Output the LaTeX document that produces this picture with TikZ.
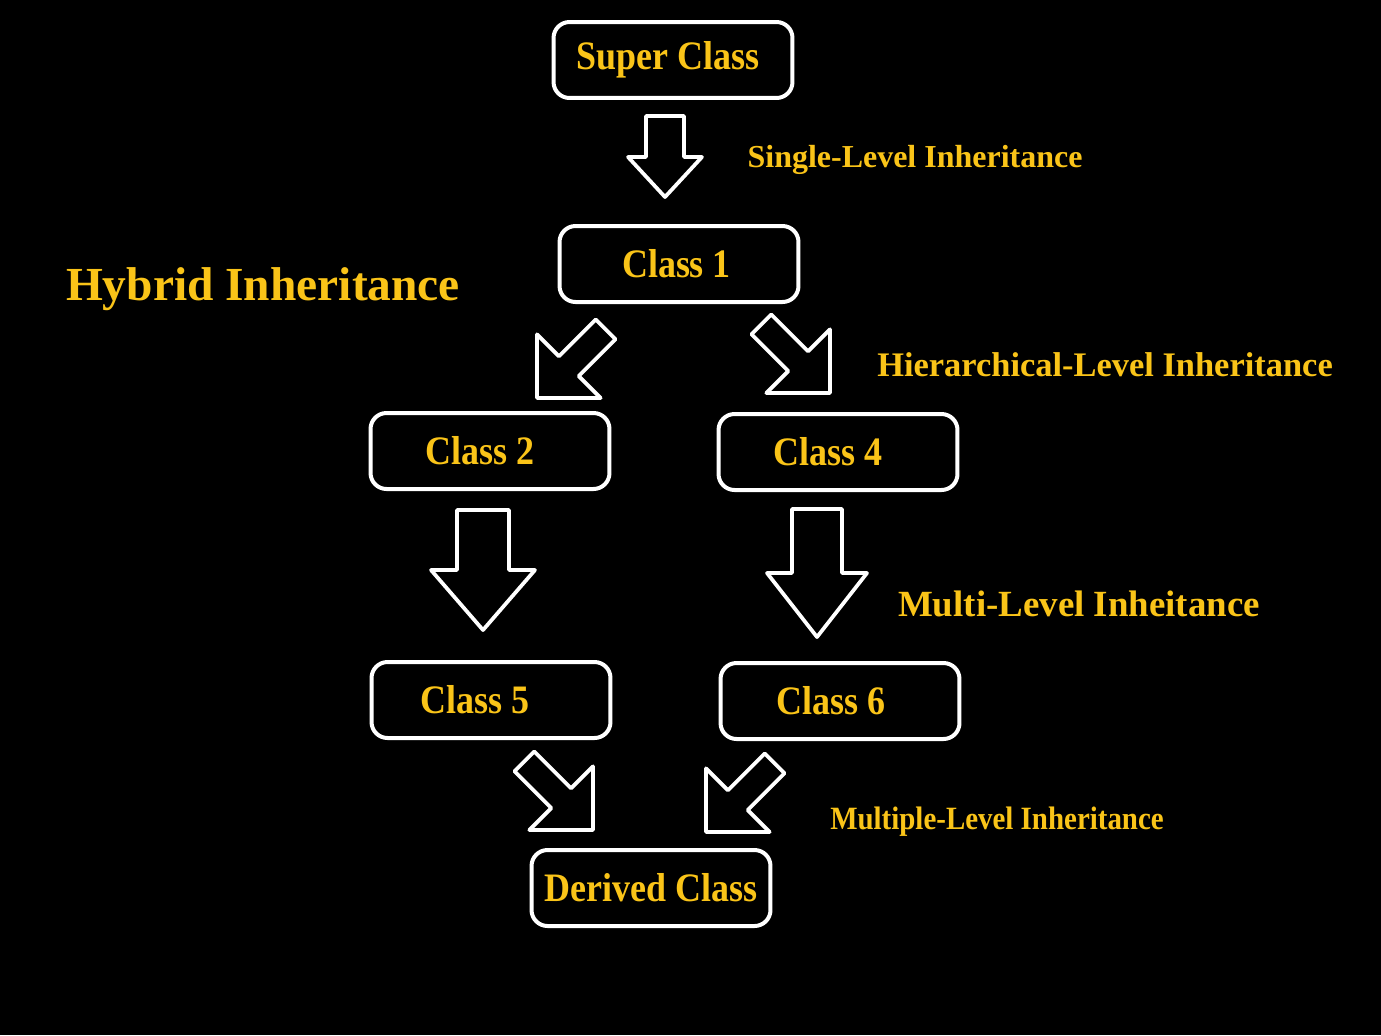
\documentclass[tikz,border=0pt]{standalone}
\usepackage{fontspec}
\setmainfont{Liberation Serif}
\newfontfamily\narrowserif[FakeStretch=0.89]{Liberation Serif}
\definecolor{gold}{RGB}{250,196,24}
\tikzset{
  classbox/.style={draw=white, line width=0.08cm, rounded corners=0.32cm, fill=black,
    text=gold, font=\narrowserif\bfseries\fontsize{23}{27}\selectfont,
    minimum width=4.78cm, minimum height=1.52cm, inner sep=0pt},
  textshift/.style={execute at begin node={\hspace*{#1}}},
  inhlabel/.style={text=gold, inner sep=0pt},
  arrowline/.style={draw=white, line width=0.075cm, line join=round}
}
\begin{document}
\begin{tikzpicture}[x=0.02cm, y=-0.02cm]
    % tip x, tip y, angle, shaft half width, head half width, shaft length, head length
    \newcommand{\blockArrow}[7]{
        \draw[arrowline, shift={(#1,#2)}, rotate=#3]
            (0,0) -- (-#7,#5) -- (-#7,#4) -- (-#7-#6,#4) -- (-#7-#6,-#4) -- (-#7,-#4) -- (-#7,-#5) -- cycle;
    }
  \fill[black] (0,0) rectangle (1381,1035);
  \useasboundingbox (0,0) rectangle (1381,1035);

  \node[classbox, textshift=-0.2cm] (super) at (673,60) {Super Class};
  \node[classbox, textshift=-0.1cm] (c1) at (679,264) {Class 1};
  \node[classbox, textshift=-0.4cm] (c2) at (490,451) {Class 2};
  \node[classbox, textshift=-0.4cm] (c4) at (838,452) {Class 4};
  \node[classbox, textshift=-0.64cm] (c5) at (491,700) {Class 5};
  \node[classbox, textshift=-0.36cm] (c6) at (840,701) {Class 6};
  \node[classbox] (derived) at (651,888) {Derived Class};

  \node[inhlabel, font=\bfseries\fontsize{27}{32}\selectfont] (hybrid) at (263,289) {Hybrid Inheritance};
  \node[inhlabel, font=\bfseries\fontsize{18.2}{22}\selectfont] (single) at (915,160) {Single-Level Inheritance};
  \node[inhlabel, font=\bfseries\fontsize{19.6}{23}\selectfont] (hier) at (1105,365) {Hierarchical-Level Inheritance};
  \node[inhlabel, font=\bfseries\fontsize{21}{25}\selectfont] (multi) at (1079,604) {Multi-Level Inheitance};
  \node[inhlabel, font=\narrowserif\bfseries\fontsize{18.5}{22}\selectfont] (multiple) at (997,822) {Multiple-Level Inheritance};

  \blockArrow{665}{197}{-90}{19}{37}{41}{40}
  \blockArrow{537}{398}{-135}{14}{45}{52}{45}
  \blockArrow{830}{393}{-45}{14}{45}{52}{45}
  \blockArrow{483}{630}{-90}{26}{52}{60}{60}
  \blockArrow{817}{637}{-90}{25}{50}{64}{64}
  \blockArrow{593}{830}{-45}{14}{45}{52}{45}
  \blockArrow{706}{832}{-135}{14}{45}{52}{45}
\end{tikzpicture}
\end{document}
